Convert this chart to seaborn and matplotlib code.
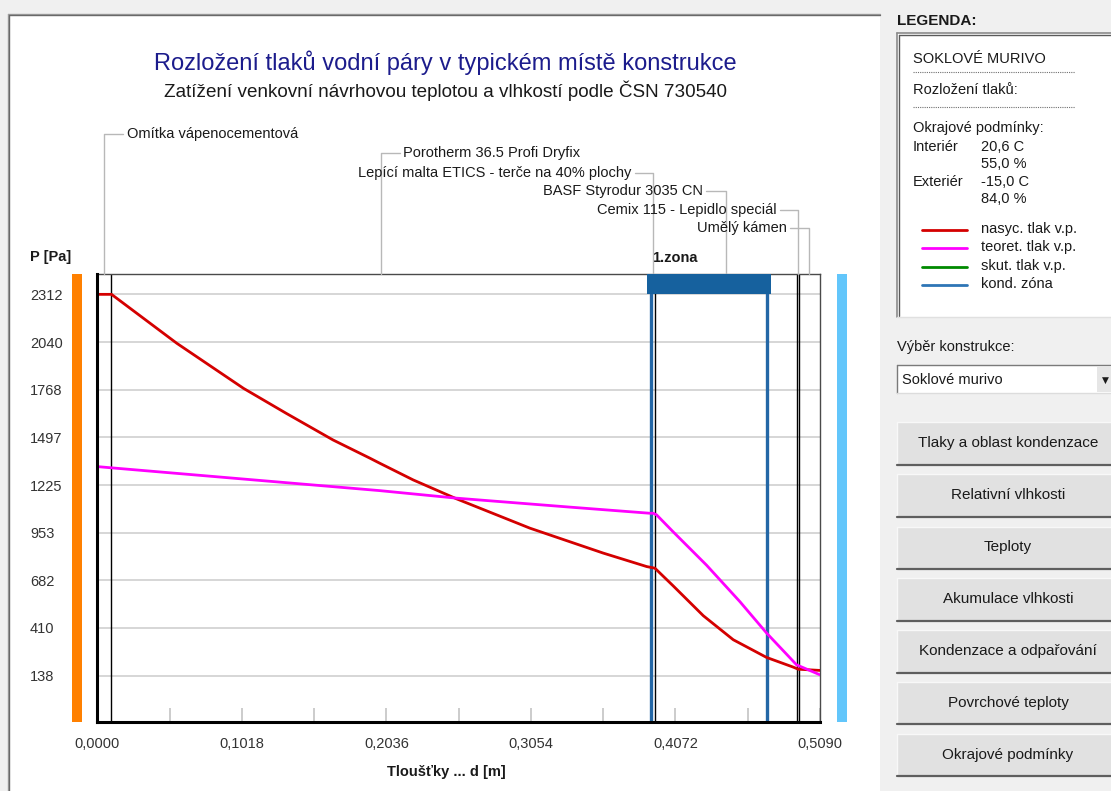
import numpy as np
import matplotlib
matplotlib.use("Agg")
import matplotlib.pyplot as plt
import seaborn as sns
from matplotlib.patches import Rectangle
from matplotlib.lines import Line2D

# ---------------- data ----------------
layer_names = ["Omítka vápenocementová", "Porotherm 36.5 Profi Dryfix",
               "Lepící malta ETICS - terče na 40% plochy", "BASF Styrodur 3035 CN",
               "Cemix 115 - Lepidlo speciál", "Umělý kámen"]
layer_thickness = [0.010, 0.380, 0.003, 0.100, 0.001, 0.015]

# saturated vapour pressure (nasyc. tlak v.p.)
x_sat = [0.0, 0.010, 0.056, 0.103, 0.133, 0.166, 0.192, 0.199, 0.2225, 0.2531,
         0.3047, 0.3563, 0.387, 0.3927, 0.4056, 0.4268, 0.4479, 0.4714, 0.4901,
         0.4937, 0.509]
p_sat = [2312, 2312, 2033, 1776, 1634, 1482, 1378, 1349, 1254, 1146,
         979, 837, 760, 751, 650, 480, 343, 242, 187,
         175, 168]

# theoretical vapour pressure (teoret. tlak v.p.)
x_theor = [0.0, 0.010, 0.199, 0.2531, 0.3329, 0.3892, 0.3915, 0.3939, 0.4056,
           0.4291, 0.4526, 0.4714, 0.4925, 0.509]
p_theor = [1330, 1323, 1193, 1150, 1099, 1064, 1064, 1055, 958,
           768, 560, 381, 200, 143]

zone_start = [0.390]
zone_end = [0.4718]
zone_labels = ["1.zona"]

y_ticks = [138, 410, 682, 953, 1225, 1497, 1768, 2040, 2312]
x_ticks = [0.0, 0.0509, 0.1018, 0.1527, 0.2036, 0.2545, 0.3054, 0.3563, 0.4072, 0.4581, 0.5090]
x_tick_labels = ["0,0000", "", "0,1018", "", "0,2036", "", "0,3054", "", "0,4072", "", "0,5090"]

legend_labels = ["nasyc. tlak v.p.", "teoret. tlak v.p.", "skut. tlak v.p.", "kond. zóna"]
buttons = ["Tlaky a oblast kondenzace", "Relativní vlhkosti", "Teploty", "Akumulace vlhkosti",
           "Kondenzace a odpařování", "Povrchové teploty", "Okrajové podmínky"]

# ---------------- style ----------------
sns.set_theme(style="white")
plt.rcParams["font.family"] = ["Liberation Sans", "DejaVu Sans"]

C_RED = "#d40000"
C_MAG = "#ff00ff"
C_GREEN = "#008a00"
C_BLUE = "#2467a6"
C_ZONE = "#16619e"

W, H = 1111, 791
fig = plt.figure(figsize=(W / 100, H / 100), dpi=100, facecolor="#f0f0f0")


def fx(x):
    return x / W


def fy(y):
    return 1 - y / H


def ftext(x, y, s, **kw):
    kw.setdefault("va", "center")
    kw.setdefault("ha", "left")
    kw.setdefault("fontsize", 10.5)
    kw.setdefault("color", "#1a1a1a")
    return fig.text(fx(x), fy(y), s, **kw)


def fline(xs, ys, **kw):
    kw.setdefault("zorder", 3)
    fig.add_artist(Line2D([fx(v) for v in xs], [fy(v) for v in ys], transform=fig.transFigure, **kw))


def frect(x0, y0, x1, y1, **kw):
    kw.setdefault("zorder", -5)
    fig.add_artist(Rectangle((fx(x0), fy(y1)), (x1 - x0) / W, (y1 - y0) / H,
                             transform=fig.transFigure, **kw))


# white chart panel
frect(8, 14, 880, 800, facecolor="white", edgecolor="none", zorder=-10)
fline([8, 880], [13.5, 13.5], color="#a0a0a0", lw=1)
fline([9, 880], [15, 15], color="#696969", lw=1)
fline([7.5, 7.5], [13.5, 800], color="#a0a0a0", lw=1)
fline([9, 9], [15, 800], color="#696969", lw=1)

# titles
ftext(445, 63, "Rozložení tlaků vodní páry v typickém místě konstrukce", ha="center",
      fontsize=17, color="#1c1c8c")
ftext(445, 91, "Zatížení venkovní návrhovou teplotou a vlhkostí podle ČSN 730540", ha="center",
      fontsize=13.6, color="#1a1a1a")

# ---------------- main axes ----------------
ax = fig.add_axes([fx(97.3), fy(722), (820 - 97.3) / W, (722 - 274) / H])
ax.set_facecolor("white")
ax.set_xlim(0, 0.509)
ax.set_ylim(-126, 2428)

ax.set_yticks(y_ticks)
ax.set_yticklabels([str(v) for v in y_ticks])
for t in ax.get_yticklabels():
    t.set_horizontalalignment("left")
ax.tick_params(axis="y", left=False, length=0, pad=48.5, labelsize=10.5, labelcolor="#333333")
ax.yaxis.grid(True, color="#d3d3d3", lw=1.3)
ax.xaxis.grid(False)
ax.set_axisbelow(True)

ax.set_xticks(x_ticks)
ax.set_xticklabels(x_tick_labels)
ax.tick_params(axis="x", bottom=True, direction="in", length=10, width=1.2, color="#c4c4c4",
               pad=11, labelsize=10.5, labelcolor="#333333")
ax.set_xlabel("Tloušťky ... d [m]", fontsize=10.5, fontweight="bold", color="#1a1a1a")
ax.xaxis.set_label_coords(0.483, -0.095)
ax.set_ylabel("")

for side in ["left", "bottom"]:
    ax.spines[side].set_color("black")
    ax.spines[side].set_linewidth(2.2)
    ax.spines[side].set_zorder(6)
for side in ["top", "right"]:
    ax.spines[side].set_color("#4a4a4a")
    ax.spines[side].set_linewidth(1.0)

# layer boundaries
bounds = np.concatenate([[0.0], np.cumsum(layer_thickness)])
mids = (bounds[:-1] + bounds[1:]) / 2
ax.vlines(bounds[1:-1], -126, 2428, color="black", lw=1.0, zorder=2)

# condensation zone
for z0, z1, zl in zip(zone_start, zone_end, zone_labels):
    ax.add_patch(Rectangle((z0 - 0.0027, 2312), (z1 - z0) + 0.0052, 2428 - 2312,
                           facecolor=C_ZONE, edgecolor="none", zorder=4, clip_on=False))
    ax.axvline(z0, color=C_BLUE, lw=2.4, zorder=3)
    ax.axvline(z1, color=C_BLUE, lw=2.4, zorder=3)
    ax.text(z0 + 0.001, 1.036, zl, transform=ax.get_xaxis_transform(), fontsize=10.5,
            fontweight="bold", va="center", ha="left", color="#1a1a1a")

# curves
sns.lineplot(x=x_sat, y=p_sat, ax=ax, color=C_RED, lw=2.0, sort=False, estimator=None, zorder=5)
sns.lineplot(x=x_theor, y=p_theor, ax=ax, color=C_MAG, lw=2.0, sort=False, estimator=None, zorder=5)

# interior / exterior side bars
ax.add_patch(Rectangle((-0.0354, 0), 0.0138, 1, transform=ax.transAxes, facecolor="#ff8000",
                       edgecolor="none", clip_on=False))
ax.add_patch(Rectangle((1.0231, 0), 0.0138, 1, transform=ax.transAxes, facecolor="#62c6fb",
                       edgecolor="none", clip_on=False))

# layer annotations
label_pos = [(126.7, 134, "left"), (403, 153.3, "left"), (631.7, 172.7, "right"),
             (703, 191, "right"), (776.7, 210, "right"), (786.7, 228.3, "right")]
for name, m, (tx, ty, ha) in zip(layer_names, mids, label_pos):
    ax.annotate(name, xy=(m, 1.0), xycoords=("data", "axes fraction"),
                xytext=(fx(tx), fy(ty)), textcoords="figure fraction",
                ha=ha, va="center", fontsize=10.5, color="#1a1a1a",
                arrowprops=dict(arrowstyle="-", color="#b8b8b8", lw=1.0, shrinkA=0, shrinkB=0,
                                connectionstyle="angle,angleA=0,angleB=90,rad=0"),
                annotation_clip=False)

ftext(30, 257, "P [Pa]", fontweight="bold")

# ---------------- right panel ----------------
ftext(897, 21, "LEGENDA:", fontweight="bold", fontsize=11)
frect(897, 33, 1120, 317, facecolor="white", edgecolor="none")
fline([897, 1111], [33, 33], color="#8a8a8a", lw=1.2)
fline([897, 897], [33, 317], color="#8a8a8a", lw=1.2)
fline([899, 1111], [35, 35], color="#5a5a5a", lw=1.0)
fline([899, 899], [35, 316], color="#5a5a5a", lw=1.0)
fline([897, 1111], [317, 317], color="#e0e0e0", lw=1.0)

ftext(913, 59, "SOKLOVÉ MURIVO")
fline([913, 1075], [72, 72], color="#707070", lw=0.8, linestyle=(0, (1, 1)))
ftext(913, 90, "Rozložení tlaků:")
fline([913, 1075], [107, 107], color="#707070", lw=0.8, linestyle=(0, (1, 1)))
ftext(913, 128, "Okrajové podmínky:")
ftext(913, 147, "Interiér")
ftext(981, 147, "20,6 C")
ftext(981, 164, "55,0 %")
ftext(913, 182, "Exteriér")
ftext(981, 182, "-15,0 C")
ftext(981, 199, "84,0 %")

for lbl, col, yy in zip(legend_labels, [C_RED, C_MAG, C_GREEN, "#2e75b6"], [230, 248, 267, 285]):
    fline([921.7, 966.7], [yy, yy], color=col, lw=2.0)
    ftext(981, yy - 1, lbl)

ftext(897, 347, "Výběr konstrukce:")
frect(897, 365, 1120, 393, facecolor="white", edgecolor="none")
fline([897, 1111], [365, 365], color="#7a7a7a", lw=1.0)
fline([897, 897], [365, 393], color="#7a7a7a", lw=1.0)
fline([897, 1111], [393, 393], color="#dcdcdc", lw=1.0)
frect(1097, 367, 1112, 392, facecolor="#e6e6e6", edgecolor="none", zorder=-4)
ftext(902, 379.5, "Soklové murivo")
ftext(1105, 380, "▼", fontsize=6.5, ha="center", family="DejaVu Sans")

btn_tops = [422, 474, 526.5, 578, 630, 681.5, 733.5]
for txt, top in zip(buttons, btn_tops):
    frect(897, top, 1120, top + 43, facecolor="#e1e1e1", edgecolor="none")
    fline([897, 1111], [top, top], color="#f8f8f8", lw=1.0)
    fline([897, 897], [top, top + 43], color="#f8f8f8", lw=1.0)
    fline([897, 1111], [top + 42.5, top + 42.5], color="#5e5e5e", lw=1.6)
    ftext(1008, top + 21, txt, ha="center", fontsize=11)

fig.savefig("out.png", dpi=100, facecolor=fig.get_facecolor())
